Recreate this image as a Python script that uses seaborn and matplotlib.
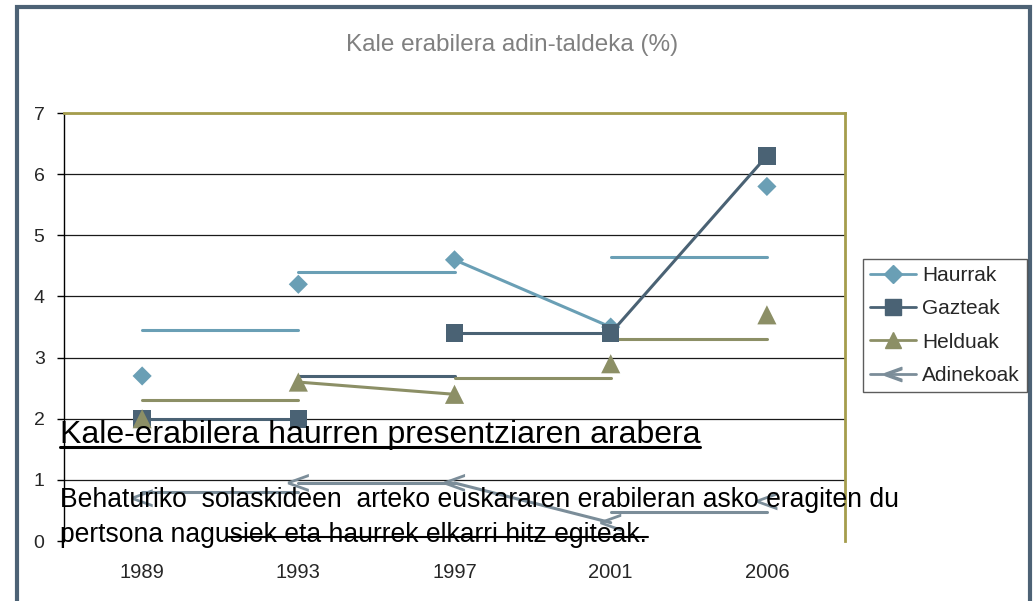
import matplotlib
matplotlib.use("Agg")
import matplotlib.pyplot as plt
from matplotlib.lines import Line2D
from matplotlib.patches import Rectangle
import pandas as pd
import seaborn as sns

# kale erabilera, adin taldeka (%)
years = ["1989", "1993", "1997", "2001", "2006"]
series = ["Haurrak", "Gazteak", "Helduak", "Adinekoak"]
haurrak = [2.7, 4.2, 4.6, 3.5, 5.8]
gazteak = [2.0, 2.0, 3.4, 3.4, 6.3]
helduak = [2.0, 2.6, 2.4, 2.9, 3.7]
adinekoak = [0.7, 0.95, 0.95, 0.3, 0.65]

# neighbouring points that are joined by a line (index of the first one)
links = {"Haurrak": [2], "Gazteak": [0, 2, 3], "Helduak": [1], "Adinekoak": [1, 2]}
# stray flat strokes left over in the screenshot: (from index, level)
ghosts = {
    "Haurrak": [(0, 3.45), (1, 4.4), (3, 4.65)],
    "Gazteak": [(1, 2.7)],
    "Helduak": [(0, 2.3), (2, 2.67), (3, 3.3)],
    "Adinekoak": [(0, 0.8), (3, 0.47)],
}

colors = {"Haurrak": "#6a9fb5", "Gazteak": "#4a6274",
          "Helduak": "#8c8f66", "Adinekoak": "#7b8d99"}
markers = {"Haurrak": "D", "Gazteak": "s", "Helduak": "^", "Adinekoak": "$<$"}
sizes = {"Haurrak": 95, "Gazteak": 160, "Helduak": 190, "Adinekoak": 230}

sns.set_style("white")
plt.rcParams["font.family"] = ["Liberation Sans", "DejaVu Sans"]

vals = dict(zip(series, [haurrak, gazteak, helduak, adinekoak]))
pts = pd.DataFrame([(s, i, v) for s in series for i, v in enumerate(vals[s])],
                   columns=["serie", "x", "y"])
rows = []
seg = 0
for s in series:
    for i in links[s]:
        rows += [(s, seg, i, vals[s][i]), (s, seg, i + 1, vals[s][i + 1])]
        seg += 1
    for i, lvl in ghosts[s]:
        rows += [(s, seg, i, lvl), (s, seg, i + 1, lvl)]
        seg += 1
segs = pd.DataFrame(rows, columns=["serie", "seg", "x", "y"])

fig = plt.figure(figsize=(10.33, 6.01), dpi=100)
ax = fig.add_axes([0.062, 0.0998, 0.756, 0.712])

sns.lineplot(data=segs, x="x", y="y", hue="serie", units="seg", estimator=None,
             palette=colors, lw=2.2, sort=False, legend=False, ax=ax)
sns.scatterplot(data=pts, x="x", y="y", hue="serie", style="serie", size="serie",
                markers=markers, sizes=sizes, palette=colors, linewidth=0,
                legend=False, ax=ax, zorder=3)

ax.set_xlim(-0.5, 4.5)
ax.set_ylim(0, 7)
ax.set_xticks(range(len(years)))
ax.set_xticklabels(years)
ax.set_yticks(range(8))
ax.set_xlabel("")
ax.set_ylabel("")
ax.tick_params(axis="x", length=0, pad=16, labelsize=14.5)
ax.tick_params(axis="y", length=5, width=1, color="black", pad=9, labelsize=14,
               left=True)
ax.set_axisbelow(True)
ax.grid(axis="y", color="#1a1a1a", lw=0.9)
ax.get_ygridlines()[0].set_visible(False)
for side in ["top", "right"]:
    ax.spines[side].set_color("#a59d4c")
    ax.spines[side].set_linewidth(2)
ax.spines["left"].set_color("black")
ax.spines["left"].set_linewidth(1)
ax.spines["bottom"].set_visible(False)

handles = [Line2D([0], [0], color=colors[s], marker=markers[s], lw=2,
                  ms={"Haurrak": 9, "Adinekoak": 12}.get(s, 11)) for s in series]
leg = fig.legend(handles, series, loc="upper left",
                 bbox_to_anchor=(0.8354, 0.569), bbox_transform=fig.transFigure,
                 fontsize=15, frameon=True, fancybox=False, handlelength=2.2,
                 handletextpad=0.3, labelspacing=0.68, borderpad=0.35,
                 borderaxespad=0)
leg.get_frame().set_edgecolor("#333333")
leg.get_frame().set_linewidth(1)

fig.text(0.496, 0.925, "Kale erabilera adin-taldeka (%)", ha="center",
         va="center", fontsize=17.5, color="#808080")

# text pasted over the chart in the screenshot
head = fig.text(0.058, 1 - 443 / 601, "Kale-erabilera haurren presentziaren arabera",
                fontsize=23, color="black", va="baseline")
fig.text(0.058, 1 - 507 / 601,
         "Behaturiko  solaskideen  arteko euskararen erabileran asko eragiten du",
         fontsize=19.1, color="black", va="baseline")
fig.text(0.058, 1 - 542 / 601,
         "pertsona nagusiek eta haurrek elkarri hitz egiteak.",
         fontsize=19.1, color="black", va="baseline")

fig.canvas.draw()
bb = head.get_window_extent().transformed(fig.transFigure.inverted())
fig.add_artist(Line2D([bb.x0, bb.x1], [1 - 447 / 601] * 2, color="black", lw=2.2))
fig.add_artist(Line2D([228 / 1033, 648 / 1033], [1 - 537 / 601] * 2,
                      color="black", lw=1.5))
fig.add_artist(Rectangle((17 / 1033, -0.05), 1013 / 1033, 1.05 - 7 / 601,
                         transform=fig.transFigure, fill=False,
                         edgecolor="#4d6275", lw=3))

fig.savefig("out.png", dpi=100)
